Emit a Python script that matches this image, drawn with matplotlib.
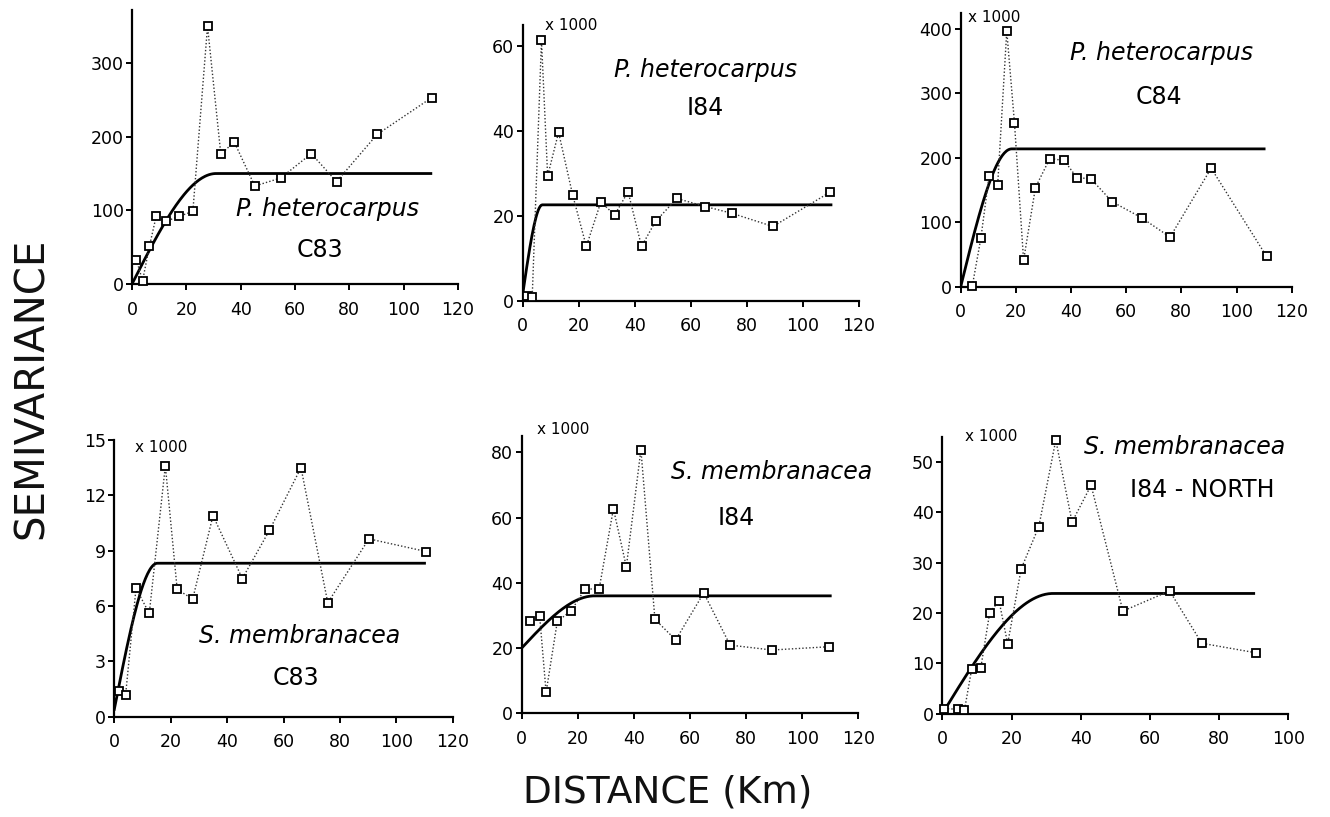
import numpy as np
import matplotlib
matplotlib.use("Agg")
import matplotlib.pyplot as plt

W, H = 1330, 817

# ---------------- data ----------------
p1_x = [1.6, 3.9, 6.4, 8.9, 12.4, 17.4, 22.4, 27.8, 32.7, 37.6, 45.2, 54.8, 66.0, 75.3, 90.2, 110.3]
p1_y = [33, 4.5, 51, 92, 85, 92, 98.5, 350, 176, 193, 133, 144, 177, 139, 203, 253]

p2_x = [1.4, 3.4, 6.7, 8.9, 12.8, 17.8, 22.7, 27.9, 32.8, 37.6, 42.4, 47.4, 55.0, 65.2, 74.7, 89.3, 109.7]
p2_y = [1.1, 0.9, 61.4, 29.4, 39.7, 25.0, 12.8, 23.3, 20.2, 25.7, 12.8, 18.7, 24.1, 22.2, 20.6, 17.5, 25.6]

p3_x = [4.2, 7.3, 10.3, 13.4, 16.7, 19.5, 22.8, 27.1, 32.3, 37.5, 42.2, 47.1, 54.9, 65.6, 75.9, 90.8, 110.9]
p3_y = [1, 75, 172, 158, 397, 254, 41, 154, 199, 196, 169, 168, 132, 107, 77, 184, 47]

p4_x = [1.7, 4.0, 7.7, 12.4, 18.1, 22.3, 27.8, 35.0, 45.4, 55.0, 66.2, 75.7, 90.3, 110.7]
p4_y = [1.41, 1.16, 6.96, 5.6, 13.6, 6.9, 6.38, 10.9, 7.49, 10.1, 13.5, 6.18, 9.64, 8.95]

p5_x = [2.9, 6.4, 8.7, 12.7, 17.6, 22.6, 27.6, 32.7, 37.3, 42.5, 47.5, 54.9, 64.9, 74.3, 89.2, 109.4]
p5_y = [28.2, 29.8, 6.4, 28.2, 31.4, 38.1, 38.1, 62.7, 44.9, 80.8, 28.8, 22.5, 36.9, 20.9, 19.4, 20.4]

p6_x = [0.6, 4.5, 6.4, 8.5, 11.1, 13.7, 16.4, 18.9, 22.8, 27.9, 32.8, 37.5, 43.0, 52.2, 65.7, 75.0, 90.7]
p6_y = [1.0, 0.9, 0.7, 8.9, 9.0, 20.1, 22.4, 13.9, 28.8, 37.2, 54.4, 38.1, 45.4, 20.4, 24.4, 14.0, 12.1]

# spherical model parameters: nugget, sill, range, last distance
p1_model = [0.0, 150.0, 31.0, 110.0]
p2_model = [1.5, 22.6, 7.0, 110.0]
p3_model = [0.0, 214.0, 18.5, 110.0]
p4_model = [0.4, 8.32, 15.3, 110.0]
p5_model = [20.0, 36.0, 26.0, 110.0]
p6_model = [0.0, 23.9, 32.0, 90.0]

p1_yticks = [0, 100, 200, 300]
p2_yticks = [0, 20, 40, 60]
p3_yticks = [0, 100, 200, 300, 400]
p4_yticks = [0, 3, 6, 9, 12, 15]
p5_yticks = [0, 20, 40, 60, 80]
p6_yticks = [0, 10, 20, 30, 40, 50]
xticks_120 = [0, 20, 40, 60, 80, 100, 120]
xticks_100 = [0, 20, 40, 60, 80, 100]

species = ["P. heterocarpus", "P. heterocarpus", "P. heterocarpus",
           "S. membranacea", "S. membranacea", "S. membranacea"]
cruises = ["C83", "I84", "C84", "C83", "I84", "I84 - NORTH"]
scale_note = [None, "x 1000", "x 1000", "x 1000", "x 1000", "x 1000"]

# ---------------- layout (pixels) ----------------
# left, right, bottom(y px), top(y px)
boxes = [
    (132.0, 458.0, 284.0, 10.0),
    (522.7, 859.0, 300.7, 25.0),
    (960.7, 1291.7, 286.7, 13.0),
    (114.3, 452.7, 716.7, 440.0),
    (521.7, 858.3, 713.3, 436.0),
    (942.3, 1288.3, 713.7, 437.0),
]
ylims = [(0, 372), (0, 65), (0, 425), (0, 15), (0, 85), (0, 55)]
xlims = [(0, 120)] * 5 + [(0, 100)]
species_pos = [(327, 209), (705, 70), (1162, 53), (300, 636), (772, 472), (1185, 447)]
cruise_pos = [(320, 250), (705, 108), (1159, 97), (296, 678), (736, 518), (1202, 490)]
note_pos = [None, (545, 25), (968, 17), (135, 447), (537, 430), (965, 437)]

xs = [p1_x, p2_x, p3_x, p4_x, p5_x, p6_x]
ys = [p1_y, p2_y, p3_y, p4_y, p5_y, p6_y]
models = [p1_model, p2_model, p3_model, p4_model, p5_model, p6_model]
yticks = [p1_yticks, p2_yticks, p3_yticks, p4_yticks, p5_yticks, p6_yticks]
xticks = [xticks_120] * 5 + [xticks_100]

fig = plt.figure(figsize=(W / 100, H / 100), dpi=100)
fig.patch.set_facecolor("white")


def spherical(h, c0, sill, a):
    h = np.asarray(h, dtype=float)
    r = np.clip(h / a, 0, 1)
    return c0 + (sill - c0) * (1.5 * r - 0.5 * r ** 3)


for i in range(6):
    l, r, b, t = boxes[i]
    ax = fig.add_axes([l / W, 1 - b / H, (r - l) / W, (b - t) / H])
    ax.set_facecolor("none")
    c0, sill, a, hmax = models[i]
    hh = np.linspace(0, hmax, 300)
    ax.plot(hh, spherical(hh, c0, sill, a), color="black", lw=2.0, zorder=2)
    ax.plot(xs[i], ys[i], linestyle=(0, (1, 1.5)), color="#333333", lw=1.0,
            marker="s", ms=5.5, mfc="white", mec="black", mew=1.3, zorder=3,
            clip_on=False)
    ax.set_xlim(*xlims[i])
    ax.set_ylim(*ylims[i])
    ax.set_xticks(xticks[i])
    ax.set_yticks(yticks[i])
    ax.set_xticklabels([str(v) for v in xticks[i]])
    ax.set_yticklabels([str(v) for v in yticks[i]])
    for s in ["top", "right"]:
        ax.spines[s].set_visible(False)
    for s in ["left", "bottom"]:
        ax.spines[s].set_linewidth(1.6)
        ax.spines[s].set_color("black")
    ax.tick_params(axis="x", direction="out", length=4, width=1.4, pad=8,
                   labelsize=12.5, colors="black")
    ax.tick_params(axis="y", direction="out", length=4, width=1.4, pad=2,
                   labelsize=12.5, colors="black")

    sx, sy = species_pos[i]
    fig.text(sx / W, 1 - sy / H, species[i], ha="center", va="center",
             fontsize=17, style="italic", color="black")
    cx, cy = cruise_pos[i]
    fig.text(cx / W, 1 - cy / H, cruises[i], ha="center", va="center",
             fontsize=17, color="black")
    if note_pos[i] is not None:
        nx, ny = note_pos[i]
        fig.text(nx / W, 1 - ny / H, scale_note[i], ha="left", va="center",
                 fontsize=11, color="black")

fig.text(32 / W, 1 - 388 / H, "SEMIVARIANCE", rotation=90, ha="center", va="center",
         fontsize=29, fontfamily="DejaVu Sans", fontweight="normal", color="#111111")
fig.text(668 / W, 1 - 793 / H, "DISTANCE (Km)", ha="center", va="center",
         fontsize=27, fontfamily="DejaVu Sans", fontweight="normal", color="#111111")

fig.savefig("out.png", dpi=100, facecolor="white")
